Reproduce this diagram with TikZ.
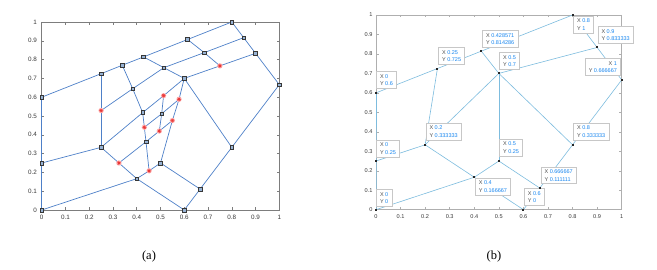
\documentclass[tikz,border=0pt]{standalone}
\usepackage{fontspec}
\setmainfont{Liberation Serif}
\newfontfamily\plotfont{Liberation Sans}
\definecolor{meshA}{RGB}{78,128,200}
\definecolor{meshB}{RGB}{125,188,222}
\definecolor{tipval}{RGB}{25,135,240}
\definecolor{tipx}{RGB}{75,75,75}
\definecolor{axA}{RGB}{125,125,125}
\definecolor{axB}{RGB}{175,175,175}
\definecolor{tickc}{RGB}{55,55,55}
\definecolor{sqfill}{RGB}{150,178,212}
\definecolor{starhalo}{RGB}{255,185,185}
\definecolor{starred}{RGB}{232,55,55}
\newcommand{\dtip}[2]{\textcolor{tipx}{X} \textcolor{tipval}{#1}\\\textcolor{tipx}{Y} \textcolor{tipval}{#2}}
\tikzset{
  meshlineA/.style={draw=meshA, line width=0.7pt, line join=round},
  meshlineB/.style={draw=meshB, line width=0.6pt, line join=round},
  sqmark/.style={rectangle, draw=black!78, fill=sqfill, minimum size=3.7pt, inner sep=0pt, line width=0.55pt},
  dotmark/.style={rectangle, fill=black!85, minimum size=2pt, inner sep=0pt},
  ticklabA/.style={font=\plotfont\fontsize{6.3}{7}\selectfont, text=tickc, inner sep=0pt},
  ticklabB/.style={font=\plotfont\fontsize{5.6}{6.5}\selectfont, text=tickc, inner sep=0pt},
  tipbox/.style={draw=black!22, fill=white, line width=0.5pt, inner xsep=3.6pt, inner ysep=2.6pt,
    align=left, anchor=north west, font=\plotfont\fontsize{5.5}{7.7}\selectfont},
  redstar/.pic={
    \fill[starhalo] (0,0) circle (2.7pt);
    \draw[starred, line width=0.5pt] (-2pt,0)--(2pt,0) (0,-2pt)--(0,2pt)
      (-1.4pt,-1.4pt)--(1.4pt,1.4pt) (-1.4pt,1.4pt)--(1.4pt,-1.4pt);}
}
\begin{document}
\begin{tikzpicture}[x=1pt,y=1pt]
\useasboundingbox (0,0) rectangle (657,270);

% ================= panel (a) =================
\begin{scope}[shift={(41.7pt,60pt)}, x=237.6pt, y=188pt]
  \draw[axA, line width=0.8pt] (0,0) rectangle (1,1);
  \foreach \i in {0,...,10} {
    \draw[axA, line width=0.5pt] (\i/10,0) -- ++(0,2.6pt) (\i/10,1) -- ++(0,-2.6pt)
      (0,\i/10) -- ++(2.6pt,0) (1,\i/10) -- ++(-2.6pt,0);
  }
  \foreach \v/\t in {0/0,1/0.1,2/0.2,3/0.3,4/0.4,5/0.5,6/0.6,7/0.7,8/0.8,9/0.9,10/1} {
    \node[ticklabA, anchor=north, yshift=-5pt] (ax\v) at (\v/10,0) {\t};
    \node[ticklabA, anchor=east, xshift=-4.6pt] (ay\v) at (0,\v/10) {\t};
  }
  % vertices
  \coordinate (a1) at (0,0);
  \coordinate (a2) at (0,0.25);
  \coordinate (a3) at (0,0.6);
  \coordinate (a4) at (0.25,0.725);
  \coordinate (a5) at (0.339,0.770);
  \coordinate (a6) at (0.4286,0.8143);
  \coordinate (a7) at (0.614,0.907);
  \coordinate (a8) at (0.8,1);
  \coordinate (a9) at (0.85,0.9167);
  \coordinate (a10) at (0.9,0.8333);
  \coordinate (a11) at (1,0.6667);
  \coordinate (a12) at (0.8,0.3333);
  \coordinate (a13) at (0.6667,0.1111);
  \coordinate (a14) at (0.6,0);
  \coordinate (a15) at (0.4,0.1667);
  \coordinate (a16) at (0.25,0.3333);
  \coordinate (a17) at (0.5,0.25);
  \coordinate (a18) at (0.6,0.7);
  \coordinate (a19) at (0.514,0.757);
  \coordinate (a20) at (0.684,0.837);
  \coordinate (a21) at (0.383,0.645);
  \coordinate (a22) at (0.425,0.518);
  \coordinate (a23) at (0.505,0.512);
  \coordinate (a24) at (0.439,0.363);
  \coordinate (s1) at (0.25,0.529);
  \coordinate (s2) at (0.75,0.7667);
  \coordinate (s3) at (0.513,0.608);
  \coordinate (s4) at (0.578,0.589);
  \coordinate (s5) at (0.432,0.44);
  \coordinate (s6) at (0.495,0.42);
  \coordinate (s7) at (0.55,0.476);
  \coordinate (s8) at (0.325,0.25);
  \coordinate (s9) at (0.452,0.2083);
  % edges
  \draw[meshlineA, line width=1.1pt] (a1) -- (a2) -- (a3);
  \draw[meshlineA] (a3) -- (a4) -- (a5) -- (a6) -- (a7) -- (a8);
  \draw[meshlineA] (a8) -- (a9) -- (a10) -- (a11);
  \draw[meshlineA] (a11) -- (a12) -- (a13) -- (a14);
  \draw[meshlineA] (a14) -- (a15) -- (a1);
  \draw[meshlineA] (a2) -- (a16);
  \draw[meshlineA] (a16) -- (s1) -- (a4);
  \draw[meshlineA] (a16) -- (s8) -- (a15);
  \draw[meshlineA] (a15) -- (s9) -- (a17);
  \draw[meshlineA] (a17) -- (a13);
  \draw[meshlineA] (a17) -- (s7) -- (s4) -- (a18);
  \draw[meshlineA] (a18) -- (a12);
  \draw[meshlineA] (a18) -- (s2) -- (a10);
  \draw[meshlineA] (a6) -- (a19) -- (a18);
  \draw[meshlineA] (a7) -- (a20) -- (s2);
  \draw[meshlineA] (s1) -- (a21) -- (a19) -- (a20) -- (a9);
  \draw[meshlineA] (a16) -- (a22) -- (s3) -- (a18);
  \draw[meshlineA] (a5) -- (a21) -- (a22) -- (s5) -- (a24) -- (s9);
  \draw[meshlineA] (s3) -- (a23) -- (s6);
  \draw[meshlineA] (s5) -- (a23) -- (s4);
  \draw[meshlineA] (s8) -- (a24) -- (s6) -- (s7);
  % markers
  \foreach \p in {a1,a2,a3,a4,a5,a6,a7,a8,a9,a10,a11,a12,a13,a14,a15,a16,a17,a18,a19,a20,a21,a22,a23,a24}
    \node[sqmark] (m\p) at (\p) {};
  \foreach \p in {s1,s2,s3,s4,s5,s6,s7,s8,s9}
    \pic at (\p) {redstar};
\end{scope}
\node[font=\fontsize{12.5}{14}\selectfont] (capa) at (149,14) {(a)};

% ================= panel (b) =================
\begin{scope}[shift={(376pt,60.3pt)}, x=245.7pt, y=194.7pt]
  \draw[axB, line width=0.6pt] (0,0) rectangle (1,1);
  \foreach \i in {0,...,10} {
    \draw[axB, line width=0.45pt] (\i/10,0) -- ++(0,2.5pt) (\i/10,1) -- ++(0,-2.5pt)
      (0,\i/10) -- ++(2.5pt,0) (1,\i/10) -- ++(-2.5pt,0);
  }
  \foreach \v/\t in {0/0,1/0.1,2/0.2,3/0.3,4/0.4,5/0.5,6/0.6,7/0.7,8/0.8,9/0.9,10/1} {
    \node[ticklabB, anchor=north, yshift=-5pt] (bx\v) at (\v/10,0) {\t};
    \node[ticklabB, anchor=east, xshift=-3.3pt] (by\v) at (0,\v/10) {\t};
  }
  \coordinate (b1) at (0,0);
  \coordinate (b2) at (0,0.25);
  \coordinate (b3) at (0,0.6);
  \coordinate (b4) at (0.25,0.725);
  \coordinate (b5) at (0.428571,0.814286);
  \coordinate (b6) at (0.8,1);
  \coordinate (b7) at (0.9,0.833333);
  \coordinate (b8) at (1,0.666667);
  \coordinate (b9) at (0.8,0.333333);
  \coordinate (b10) at (0.666667,0.111111);
  \coordinate (b11) at (0.6,0);
  \coordinate (b12) at (0.4,0.166667);
  \coordinate (b13) at (0.2,0.333333);
  \coordinate (b14) at (0.5,0.25);
  \coordinate (b15) at (0.5,0.7);
  \draw[meshlineB, line width=0.9pt] (b1) -- (b2) -- (b3);
  \draw[meshlineB] (b3) -- (b4) -- (b5) -- (b6) -- (b7) -- (b8) -- (b9) -- (b10) -- (b11) -- (b12) -- (b1);
  \draw[meshlineB] (b2) -- (b13) -- (b12) -- (b14) -- (b10);
  \draw[meshlineB] (b13) -- (b4);
  \draw[meshlineB] (b13) -- (b15);
  \draw[meshlineB] (b15) -- (b14);
  \draw[meshlineB] (b15) -- (b7);
  \draw[meshlineB] (b5) -- (b15) -- (b9);
\end{scope}
% data tips
\node[tipbox] (t1) at (376.2,198.5) {\dtip{0}{0.6}};
\node[tipbox] (t2) at (438.3,222.5) {\dtip{0.25}{0.725}};
\node[tipbox] (t3) at (482.3,239.5) {\dtip{0.428571}{0.814286}};
\node[tipbox] (t4) at (499.3,217.5) {\dtip{0.5}{0.7}};
\node[tipbox] (t5) at (573.3,254) {\dtip{0.8}{1}};
\node[tipbox] (t6) at (597.7,243.5) {\dtip{0.9}{0.833333}};
\node[tipbox, align=right] (t7) at (584.9,211.5) {\textcolor{tipx}{X} \textcolor{tipval}{1}\\\textcolor{tipx}{Y} \textcolor{tipval}{0.666667}};
\node[tipbox] (t8) at (376.2,130) {\dtip{0}{0.25}};
\node[tipbox] (t9) at (425.7,146.7) {\dtip{0.2}{0.333333}};
\node[tipbox] (t10) at (499.3,131) {\dtip{0.5}{0.25}};
\node[tipbox] (t11) at (573.3,146.7) {\dtip{0.8}{0.333333}};
\node[tipbox] (t12) at (540.7,103.3) {\dtip{0.666667}{0.111111}};
\node[tipbox] (t13) at (475,92) {\dtip{0.4}{0.166667}};
\node[tipbox] (t14) at (376.2,80.5) {\dtip{0}{0}};
\node[tipbox] (t15) at (524,81.5) {\dtip{0.6}{0}};
\begin{scope}[shift={(376pt,60.3pt)}, x=245.7pt, y=194.7pt]
  \foreach \p in {b1,b2,b3,b4,b5,b6,b7,b8,b9,b10,b11,b12,b13,b14,b15}
    \node[dotmark] (d\p) at (\p) {};
\end{scope}
\node[font=\fontsize{12.5}{14}\selectfont] (capb) at (494,14) {(b)};
\end{tikzpicture}
\end{document}
